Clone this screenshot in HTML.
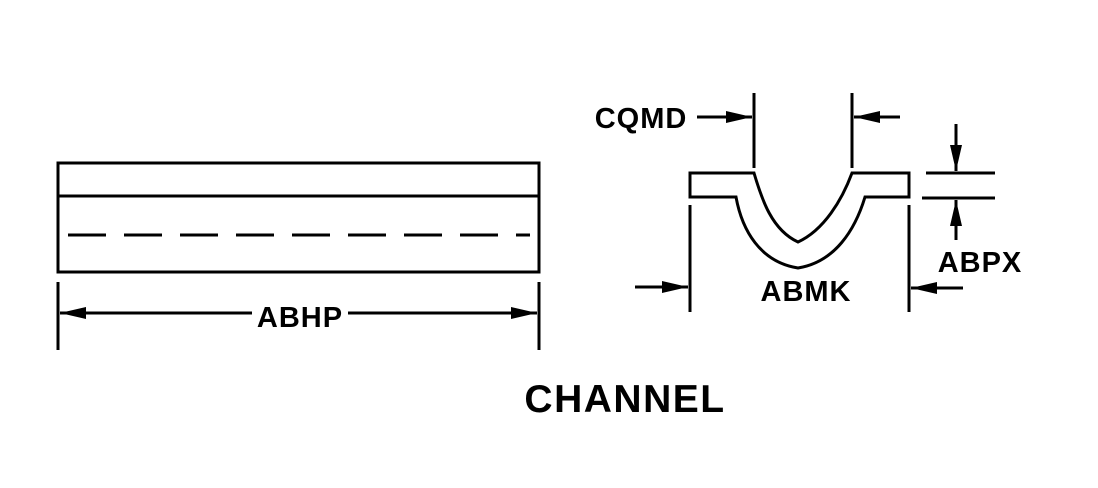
<!DOCTYPE html>
<html><head><style>body{margin:0;background:#fff}svg{display:block}text{font-family:"Liberation Sans",sans-serif;font-weight:bold;fill:#000}</style></head>
<body>
<svg width="1098" height="488" viewBox="0 0 1098 488">
<defs>
<marker id="a" viewBox="0 0 10 10" refX="10" refY="5" markerWidth="26" markerHeight="12" markerUnits="userSpaceOnUse" orient="auto" preserveAspectRatio="none"><path d="M0,0L10,5L0,10z"/></marker>
</defs>
<g stroke="#000" stroke-width="3" fill="none">
<rect x="58" y="163" width="481" height="109"/>
<line x1="58" y1="196" x2="539" y2="196"/>
<line x1="68" y1="235" x2="530" y2="235" stroke-dasharray="38,18"/>
<line x1="58" y1="282" x2="58" y2="350"/>
<line x1="539" y1="282" x2="539" y2="350"/>
<line x1="252" y1="313" x2="60" y2="313" marker-end="url(#a)"/>
<line x1="348" y1="313" x2="537" y2="313" marker-end="url(#a)"/>
<path d="M690,173 L754,173 C762,200 772,230 798,242 C824,230 842,200 852,173 L909,173 L909,197 L865,197 C855,230 835,262 798,268 C760,262 742,230 736,197 L690,197 Z"/>
<line x1="754" y1="93" x2="754" y2="168"/>
<line x1="852" y1="93" x2="852" y2="168"/>
<line x1="697" y1="117" x2="752" y2="117" marker-end="url(#a)"/>
<line x1="900" y1="117" x2="854" y2="117" marker-end="url(#a)"/>
<line x1="690" y1="205" x2="690" y2="312"/>
<line x1="909" y1="205" x2="909" y2="312"/>
<line x1="635" y1="287" x2="688" y2="287" marker-end="url(#a)"/>
<line x1="963" y1="288" x2="911" y2="288" marker-end="url(#a)"/>
<line x1="926" y1="173" x2="995" y2="173"/>
<line x1="922" y1="198" x2="995" y2="198"/>
<line x1="956" y1="124" x2="956" y2="171" marker-end="url(#a)"/>
<line x1="956" y1="240" x2="956" y2="200" marker-end="url(#a)"/>
</g>
<text x="300" y="327" font-size="29" text-anchor="middle" letter-spacing="1">ABHP</text>
<text x="641" y="128" font-size="29" text-anchor="middle" letter-spacing="1">CQMD</text>
<text x="806" y="301" font-size="29" text-anchor="middle" letter-spacing="1">ABMK</text>
<text x="980" y="272" font-size="29" text-anchor="middle" letter-spacing="1">ABPX</text>
<text x="625" y="412" font-size="39" text-anchor="middle" letter-spacing="1.5">CHANNEL</text>
</svg>
</body></html>
